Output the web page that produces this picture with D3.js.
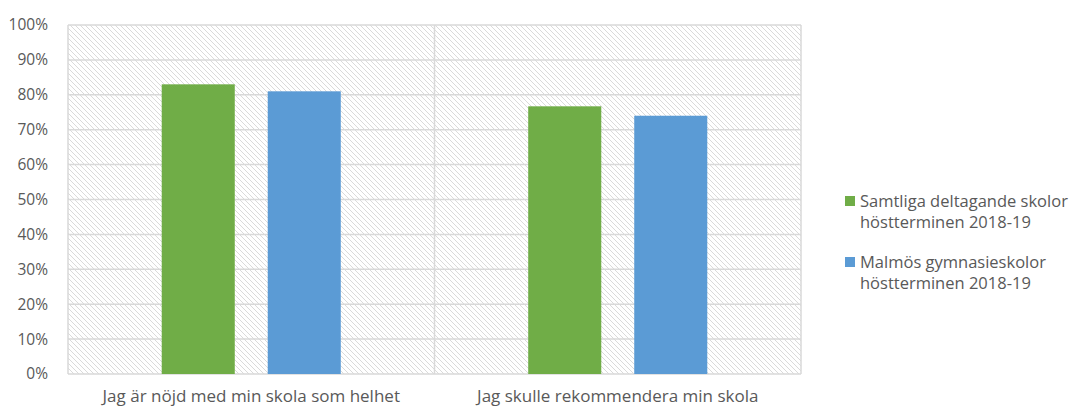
<!DOCTYPE html>
<html><head><meta charset="utf-8">
<script src="https://cdn.jsdelivr.net/npm/d3@7"></script>
<style>body{margin:0;background:#fff;}svg{display:block;font-family:"Open Sans","Noto Sans",sans-serif;}</style>
</head><body><svg id="c" width="1070" height="408"></svg>
<script>
const categories = ["Jag är nöjd med min skola som helhet", "Jag skulle rekommendera min skola"];
const seriesNames = ["Samtliga deltagande skolor höstterminen 2018-19", "Malmös gymnasieskolor höstterminen 2018-19"];
const seriesLegendLines = [["Samtliga deltagande skolor", "höstterminen 2018-19"], ["Malmös gymnasieskolor", "höstterminen 2018-19"]];
const samtliga = [0.83, 0.767];
const malmo = [0.81, 0.74];
const yTicks = [0, 0.1, 0.2, 0.3, 0.4, 0.5, 0.6, 0.7, 0.8, 0.9, 1.0];
const colors = ["#70ad47", "#5b9bd5"];

const seriesValues = [samtliga, malmo];
const svg = d3.select("#c");
const L = 68, R = 801, T = 25, B = 374;

const defs = svg.append("defs");
const pat = defs.append("pattern").attr("id", "hatch").attr("patternUnits", "userSpaceOnUse")
  .attr("width", 5).attr("height", 5);
pat.append("rect").attr("width", 5).attr("height", 5).attr("fill", "#fff");
pat.append("path").attr("d", "M-1,-1 L6,6 M-1,4 L1,6 M4,-1 L6,1").attr("stroke", "#dadada").attr("stroke-width", 1);

const y = d3.scaleLinear().domain([0, 1]).range([B, T]);
const x0 = d3.scaleBand().domain(categories).range([L, R]).paddingInner(0).paddingOuter(0);
const x1 = d3.scaleBand().domain(seriesNames).range([0, x0.bandwidth()]).paddingInner(0.311).paddingOuter(0.884);

svg.append("rect").attr("x", L).attr("y", T).attr("width", R - L).attr("height", B - T).attr("fill", "url(#hatch)");

svg.append("g").selectAll("line").data(yTicks).join("line")
  .attr("x1", L).attr("x2", R).attr("y1", d => y(d)).attr("y2", d => y(d))
  .attr("stroke", "#d9d9d9").attr("stroke-width", 1.5);
const vx = [L, x0(categories[1]), R];
svg.append("g").selectAll("line").data(vx).join("line")
  .attr("x1", d => d).attr("x2", d => d).attr("y1", T).attr("y2", B)
  .attr("stroke", "#d9d9d9").attr("stroke-width", 1.5);

seriesValues.forEach((vals, si) => {
  svg.append("g").selectAll("rect").data(vals).join("rect")
    .attr("x", (d, i) => x0(categories[i]) + x1(seriesNames[si]))
    .attr("y", d => y(d))
    .attr("width", x1.bandwidth())
    .attr("height", d => B - y(d))
    .attr("fill", colors[si]);
});

const yAxis = d3.axisLeft(y).tickValues(yTicks).tickFormat(d3.format(".0%")).tickSize(0).tickPadding(20);
const ya = svg.append("g").attr("transform", `translate(${L},0)`).call(yAxis);
ya.select(".domain").remove();
ya.selectAll("text").attr("fill", "#595959").style("font-size", "15.5px").style("font-family", "'Open Sans',sans-serif");

const xAxis = d3.axisBottom(x0).tickSize(0).tickPadding(16);
const xa = svg.append("g").attr("transform", `translate(0,${B})`).call(xAxis);
xa.select(".domain").remove();
xa.selectAll("text").attr("fill", "#595959").style("font-size", "17px").style("font-family", "'Open Sans',sans-serif");

const lg = svg.append("g");
const legendY = [201, 262];
seriesLegendLines.forEach((lines, i) => {
  lg.append("rect").attr("x", 845).attr("y", legendY[i] - 5).attr("width", 10).attr("height", 10).attr("fill", colors[i]);
  lines.forEach((t, j) => {
    lg.append("text").attr("x", 860).attr("y", legendY[i] + j * 21.5).attr("dy", "0.35em")
      .attr("fill", "#595959").style("font-size", "16.5px").text(t);
  });
});
</script></body></html>
